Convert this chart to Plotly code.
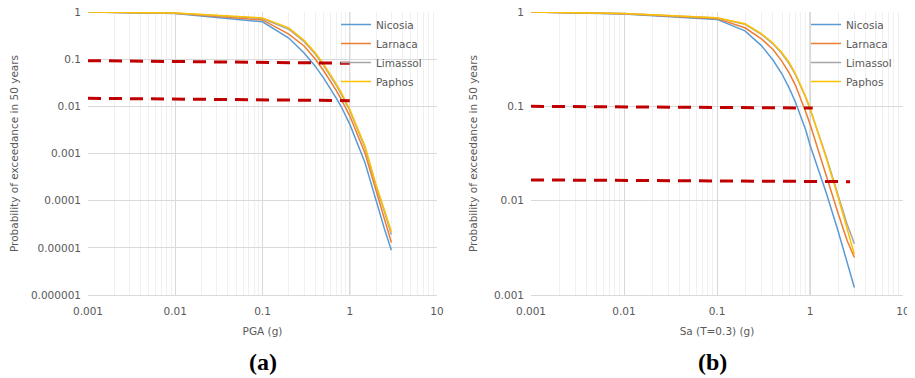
import plotly.graph_objects as go

# ---------------- data ----------------
x_vals = [0.001, 0.01, 0.1, 0.2, 0.3, 0.4, 0.5, 0.6, 0.7, 0.8, 0.9, 1.0, 1.5, 2.0, 2.5, 3.0]

cities = ["Nicosia", "Larnaca", "Limassol", "Paphos"]
colors = ["#5B9BD5", "#ED7D31", "#A5A5A5", "#FFC000"]

# (a) PGA hazard curves
pga_nicosia = [1.0, 0.93, 0.62, 0.28, 0.135, 0.072, 0.040, 0.024, 0.015, 0.0098, 0.0065, 0.0042, 6.3e-4, 1.0e-4, 2.5e-5, 8.9e-6]
pga_larnaca = [1.0, 0.94, 0.68, 0.34, 0.19, 0.102, 0.0575, 0.0347, 0.0219, 0.0141, 0.0093, 0.0063, 1.0e-3, 1.6e-4, 4.0e-5, 1.3e-5]
pga_limassol = [1.0, 0.945, 0.73, 0.43, 0.235, 0.13, 0.074, 0.045, 0.028, 0.018, 0.012, 0.0082, 1.3e-3, 2.0e-4, 5.8e-5, 1.9e-5]
pga_paphos = [1.0, 0.95, 0.75, 0.46, 0.25, 0.138, 0.079, 0.048, 0.030, 0.0195, 0.0129, 0.0087, 1.4e-3, 2.2e-4, 6.3e-5, 2.2e-5]

# (b) Sa(T=0.3) hazard curves
sa_nicosia = [1.0, 0.955, 0.835, 0.63, 0.44, 0.31, 0.22, 0.155, 0.11, 0.078, 0.056, 0.039, 0.012, 0.0048, 0.0022, 0.0012]
sa_larnaca = [1.0, 0.96, 0.85, 0.68, 0.52, 0.40, 0.30, 0.224, 0.166, 0.12, 0.087, 0.065, 0.018, 0.0074, 0.0038, 0.0025]
sa_limassol = [1.0, 0.963, 0.865, 0.74, 0.58, 0.46, 0.36, 0.28, 0.215, 0.163, 0.124, 0.094, 0.029, 0.0115, 0.0057, 0.0035]
sa_paphos = [1.0, 0.965, 0.87, 0.75, 0.59, 0.47, 0.37, 0.29, 0.22, 0.166, 0.126, 0.095, 0.028, 0.011, 0.005, 0.0027]

# red dashed reference levels
pga_ref_x = [0.001, 1.0]
pga_ref1_y = [0.093, 0.082]
pga_ref2_y = [0.0148, 0.0132]
sa_ref1_x = [0.001, 1.07]
sa_ref1_y = [0.1, 0.096]
sa_ref2_x = [0.001, 2.7]
sa_ref2_y = [0.0166, 0.0159]

x_tickvals = [0.001, 0.01, 0.1, 1, 10]
x_ticktext = ["0.001", "0.01", "0.1", "1", "10"]
pga_y_tickvals = [1, 0.1, 0.01, 0.001, 0.0001, 0.00001, 0.000001]
pga_y_ticktext = ["1", "0.1", "0.01", "0.001", "0.0001", "0.00001", "0.000001"]
sa_y_tickvals = [1, 0.1, 0.01, 0.001]
sa_y_ticktext = ["1", "0.1", "0.01", "0.001"]

# ---------------- figure ----------------
OFF = 8  # page body margin
W, H = 915 - OFF, 378 - OFF
FONT = "DejaVu Sans"
GRAY_TXT = "#595959"
fig = go.Figure()


def px_x(p):
    return (p - OFF) / W


def px_y(p):
    return 1 - (p - OFF) / H


pga_series = [pga_nicosia, pga_larnaca, pga_limassol, pga_paphos]
sa_series = [sa_nicosia, sa_larnaca, sa_limassol, sa_paphos]

for name, col, ys in zip(cities, colors, pga_series):
    fig.add_trace(go.Scatter(x=x_vals, y=ys, mode="lines", name=name,
                             line=dict(color=col, width=1.5),
                             xaxis="x", yaxis="y", legend="legend"))
for ys in (pga_ref1_y, pga_ref2_y):
    fig.add_trace(go.Scatter(x=pga_ref_x, y=ys, mode="lines", showlegend=False,
                             line=dict(color="#C00000", width=3, dash="13px,8px"),
                             xaxis="x", yaxis="y"))

for name, col, ys in zip(cities, colors, sa_series):
    fig.add_trace(go.Scatter(x=x_vals, y=ys, mode="lines", name=name,
                             line=dict(color=col, width=1.5),
                             xaxis="x2", yaxis="y2", legend="legend2"))
for xs, ys in ((sa_ref1_x, sa_ref1_y), (sa_ref2_x, sa_ref2_y)):
    fig.add_trace(go.Scatter(x=xs, y=ys, mode="lines", showlegend=False,
                             line=dict(color="#C00000", width=3, dash="13px,8px"),
                             xaxis="x2", yaxis="y2"))

minor_x = [m * 10 ** e for e in (-3, -2, -1, 0) for m in range(2, 10)]


def xaxis_cfg(domain, title, anchor):
    return dict(type="log", range=[-3, 1], domain=domain, anchor=anchor,
                tickvals=x_tickvals, ticktext=x_ticktext,
                showgrid=True, gridcolor="#D9D9D9", gridwidth=1,
                minor=dict(tickvals=minor_x, showgrid=True, gridcolor="#F0F0F0", gridwidth=1),
                showline=True, linecolor="#D9D9D9", linewidth=1,
                ticks="", ticklabelstandoff=6, ticklabeloverflow="allow",
                tickfont=dict(family=FONT, size=10.5, color=GRAY_TXT),
                title=dict(text=title, font=dict(family=FONT, size=10.5, color=GRAY_TXT), standoff=12),
                zeroline=False, automargin=False)


def yaxis_cfg(domain, rng, tv, tt, anchor, standoff):
    return dict(type="log", range=rng, domain=domain, anchor=anchor,
                tickvals=tv, ticktext=tt,
                showgrid=True, gridcolor="#D9D9D9", gridwidth=1,
                showline=False, ticks="", ticklabelstandoff=6, ticklabeloverflow="allow",
                tickfont=dict(family=FONT, size=10.5, color=GRAY_TXT),
                title=dict(text="Probability of exceedance in 50 years",
                           font=dict(family=FONT, size=10.5, color=GRAY_TXT), standoff=standoff),
                zeroline=False, automargin=False)


ydom = [px_y(295), px_y(12)]
legend_font = dict(family=FONT, size=10.5, color=GRAY_TXT)
fig.update_layout(
    width=W, height=H,
    margin=dict(l=0, r=0, t=0, b=0),
    paper_bgcolor="white", plot_bgcolor="white",
    font=dict(family=FONT, color=GRAY_TXT),
    xaxis=xaxis_cfg([px_x(88), px_x(437)], "PGA (g)", "y"),
    yaxis=yaxis_cfg(ydom, [-6, 0], pga_y_tickvals, pga_y_ticktext, "x", 12),
    xaxis2=xaxis_cfg([px_x(531), px_x(903)], "Sa (T=0.3) (g)", "y2"),
    yaxis2=yaxis_cfg(ydom, [-3, 0], sa_y_tickvals, sa_y_ticktext, "x2", 14),
    legend=dict(x=px_x(336), y=px_y(10), xanchor="left", yanchor="top",
                bgcolor="rgba(0,0,0,0)", font=legend_font, itemwidth=30, tracegroupgap=0),
    legend2=dict(x=px_x(806), y=px_y(10), xanchor="left", yanchor="top",
                 bgcolor="rgba(0,0,0,0)", font=legend_font, itemwidth=30, tracegroupgap=0),
    shapes=[
        dict(type="line", xref="x", yref="y domain", x0=1, x1=1, y0=0, y1=1,
             line=dict(color="#BFBFBF", width=1), layer="below"),
        dict(type="line", xref="x2", yref="y2 domain", x0=1, x1=1, y0=0, y1=1,
             line=dict(color="#BFBFBF", width=1), layer="below"),
    ],
    annotations=[
        dict(text="<b>(a)</b>", x=px_x(263), y=px_y(362), xref="paper", yref="paper",
             xanchor="center", yanchor="middle", showarrow=False,
             font=dict(family="Liberation Serif", size=24, color="black")),
        dict(text="<b>(b)</b>", x=px_x(712), y=px_y(362), xref="paper", yref="paper",
             xanchor="center", yanchor="middle", showarrow=False,
             font=dict(family="Liberation Serif", size=24, color="black")),
    ],
)

fig.write_html("out.html")
